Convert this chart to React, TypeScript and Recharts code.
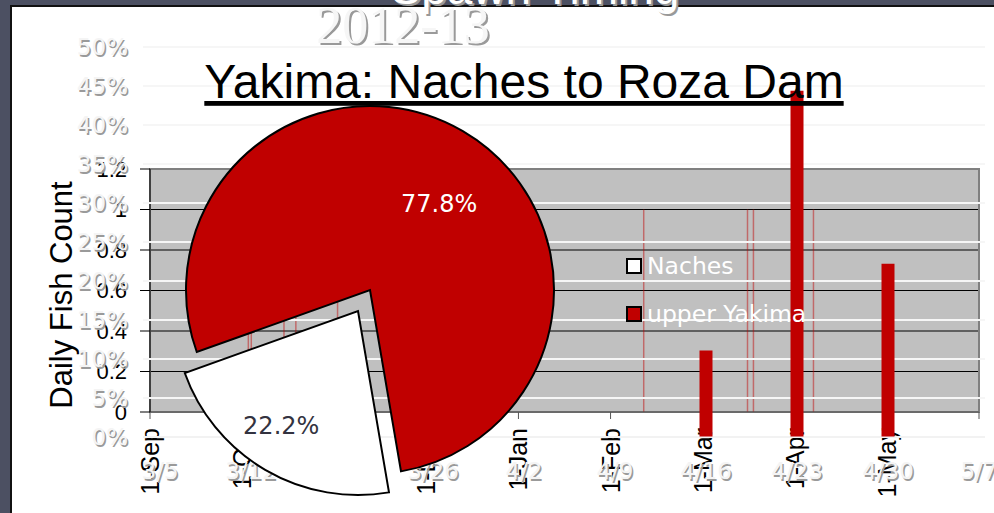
import { BarChart, Bar, XAxis, YAxis, CartesianGrid, ReferenceArea, PieChart, Pie, Cell, Legend } from "recharts";

// daily fish count chart (Sep 2012 - May 2013)
const monthLabels = ["1-Sep", "1-Oct", "1-Nov", "1-Dec", "1-Jan", "1-Feb", "1-Mar", "1-Apr", "1-May", ""];
const countDates = ["2012-10-03", "2012-10-04", "2012-10-15", "2012-10-19", "2012-11-02", "2013-02-11", "2013-03-16", "2013-03-18", "2013-04-07"];
const dailyCounts = [1, 1, 1, 1, 1, 1, 1, 1, 1];
const countTicks = [0, 0.2, 0.4, 0.6, 0.8, 1, 1.2];

// weekly spawn timing (% of redds)
const weekLabels = ["3/5", "3/12", "3/19", "3/26", "4/2", "4/9", "4/16", "4/23", "4/30", "5/7"];
const weeklyPct = [0, 0, 0, 0, 0, 0, 11.1, 44.4, 22.2, 0];
const pctTicks = [0, 5, 10, 15, 20, 25, 30, 35, 40, 45, 50];

// share by reach
const pieNames = ["Naches", "upper Yakima"];
const pieCounts = [2, 7];
const pieColors = ["#ffffff", "#c00000"];

const W = 994;
const H = 513;
const RAD = Math.PI / 180;

// month index from Sep 2012, fractional by day
const toMonthPos = (d: string) => {
    const [y, m, day] = d.split("-").map(Number);
    const idx = (y - 2012) * 12 + m - 9;
    const dim = new Date(y, m, 0).getDate();
    return idx + (day - 1) / dim;
};

const dailyData = countDates.map((d, i) => ({ pos: toMonthPos(d), count: dailyCounts[i] }));
const weeklyData = weekLabels.map((w, i) => ({ pos: i, week: w, pct: weeklyPct[i] }));
const pieData = pieNames.map((n, i) => ({ name: n, value: pieCounts[i], color: pieColors[i] }));

const ARIAL = "'Liberation Sans', Arial, sans-serif";
const TAHOMA = "'DejaVu Sans', Verdana, sans-serif";

const MonthTick = (p: any) => (
    <text x={p.x} y={p.y} transform={`rotate(-90 ${p.x} ${p.y})`} textAnchor="end" dominantBaseline="central"
        fontSize={25} fontFamily={ARIAL} fill="#000">
        {monthLabels[p.payload.value] ?? ""}
    </text>
);

const ShadowText = ({ x, y, anchor, dy, size, children }: any) => (
    <g>
        <text x={x + 1.5} y={y + 1.5} dy={dy} textAnchor={anchor} fontSize={size} fontFamily={TAHOMA} fill="#9a9a9a">{children}</text>
        <text x={x} y={y} dy={dy} textAnchor={anchor} fontSize={size} fontFamily={TAHOMA} fill="#f4f4f4">{children}</text>
    </g>
);

const PctTick = (p: any) => (
    <ShadowText x={p.x} y={p.y} anchor="end" dy="0.36em" size={23}>{p.payload.value}%</ShadowText>
);

const WeekTick = (p: any) => (
    <ShadowText x={p.x} y={p.y} anchor="middle" dy="0.71em" size={23}>{weekLabels[p.payload.value] ?? ""}</ShadowText>
);

// label placed inside slice, rf = fraction of radius, shift = degrees off mid angle
const sliceLabel = (which: number, rf: number, shift: number, color: string) => (p: any) => {
    if (p.index !== which) return null;
    const r = p.outerRadius * rf;
    const a = (p.midAngle + shift) * RAD;
    const x = p.cx + r * Math.cos(-a);
    const y = p.cy + r * Math.sin(-a);
    return (
        <text x={x} y={y} fill={color} textAnchor="middle" dominantBaseline="central" fontSize={24} fontFamily={TAHOMA}>
            {(p.percent * 100).toFixed(1)}%
        </text>
    );
};

const PieLegend = () => (
    <div style={{ display: "flex", flexDirection: "column", gap: 22 }}>
        {pieData.map((d) => (
            <div key={d.name} style={{ display: "flex", alignItems: "center", height: 26 }}>
                <span style={{ width: 12, height: 12, border: "2px solid #000", background: d.color, marginRight: 5 }} />
                <span style={{ color: "#fff", fontFamily: TAHOMA, fontSize: 23.5, whiteSpace: "nowrap" }}>{d.name}</span>
            </div>
        ))}
    </div>
);

function DailyChart() {
    return (
        <BarChart width={W} height={H} data={dailyData} margin={{ top: 169, right: 15, bottom: 41, left: 0 }}>
            <CartesianGrid vertical={false} stroke="#000" fill="#c0c0c0" fillOpacity={1} />
            <ReferenceArea x1={0} x2={9} y1={0} y2={1.2} fill="none" stroke="#808080" strokeWidth={2} />
            <XAxis dataKey="pos" type="number" domain={[0, 9]} ticks={[0, 1, 2, 3, 4, 5, 6, 7, 8, 9]}
                height={60} tickSize={7} tickMargin={9} stroke="#555" tick={<MonthTick />} />
            <YAxis domain={[0, 1.2]} ticks={countTicks} width={150} tickSize={10} tickMargin={13} stroke="#000"
                tickFormatter={(v: number) => String(Math.round(v * 10) / 10)}
                tick={{ fill: "#000", fontSize: 22, fontFamily: ARIAL }} />
            <Bar dataKey="count" fill="#c00000" fillOpacity={0.45} barSize={1.5} isAnimationActive={false} />
        </BarChart>
    );
}

function SpawnChart() {
    return (
        <BarChart width={W} height={H} data={weeklyData} margin={{ top: 47, right: 9, bottom: 26, left: 0 }}>
            <CartesianGrid vertical={false} stroke="#f6f6f6" strokeWidth={2} />
            <XAxis dataKey="pos" type="number" domain={[-0.187, 9.066]} ticks={weekLabels.map((_, i) => i)}
                height={50} tickLine={false} tickSize={0} tickMargin={26} stroke="#eeeeee" tick={<WeekTick />} />
            <YAxis domain={[0, 50]} ticks={pctTicks} width={143} tickLine={false} axisLine={false}
                tickSize={0} tickMargin={15} tick={<PctTick />} />
            <Bar dataKey="pct" fill="#c00000" barSize={13} isAnimationActive={false} />
        </BarChart>
    );
}

function ReachPie() {
    return (
        <PieChart width={W} height={H} margin={{ top: 0, right: 0, bottom: 0, left: 0 }}>
            <Pie data={pieData} dataKey="value" nameKey="name" cx={370} cy={290} outerRadius={184}
                startAngle={199.7} endAngle={559.7} labelLine={false} label={sliceLabel(1, 0.6, -8.5, "#fff")}
                isAnimationActive={false}>
                {pieData.map((d, i) => (
                    <Cell key={d.name} fill={i === 1 ? d.color : "transparent"} stroke={i === 1 ? "#000" : "none"} strokeWidth={2} />
                ))}
            </Pie>
            <Pie data={pieData} dataKey="value" nameKey="name" cx={358} cy={311} outerRadius={184}
                startAngle={199.7} endAngle={559.7} labelLine={false} label={sliceLabel(0, 0.75, -3.5, "#333340")}
                isAnimationActive={false}>
                {pieData.map((d, i) => (
                    <Cell key={d.name} fill={i === 0 ? d.color : "transparent"} stroke={i === 0 ? "#000" : "none"} strokeWidth={2} />
                ))}
            </Pie>
            <Legend layout="vertical" content={<PieLegend />} wrapperStyle={{ left: 626, top: 253, width: 220 }} />
        </PieChart>
    );
}

const layer: React.CSSProperties = { position: "absolute", left: 0, top: 0 };

export default function App() {
    return (
        <div style={{ position: "fixed", left: 0, top: 0, width: W, height: H, overflow: "hidden", background: "#4c5062" }}>
            <div style={{ position: "absolute", left: 10, top: 5, width: W - 10, height: H - 5, background: "#fff", borderLeft: "2px solid #111", borderTop: "2px solid #111", boxSizing: "border-box" }} />
            <div style={layer}><DailyChart /></div>
            <svg width={W} height={H} style={layer}>
                <text x={72} y={295} transform="rotate(-90 72 295)" textAnchor="middle" fontSize={31} fontFamily={ARIAL} fill="#000">Daily Fish Count</text>
            </svg>
            <div style={layer}><SpawnChart /></div>
            <svg width={W} height={H} style={layer}>
                <text x={524} y={98} textAnchor="middle" fontSize={48} fontFamily={ARIAL} fill="#000" textDecoration="underline">Yakima: Naches to Roza Dam</text>
            </svg>
            <div style={layer}><ReachPie /></div>
            <svg width={W} height={H} style={layer}>
                <text x={537} y={6} textAnchor="middle" fontSize={46} fontFamily={ARIAL} fill="#999">Spawn Timing</text>
                <text x={535} y={4} textAnchor="middle" fontSize={46} fontFamily={ARIAL} fill="#fff">Spawn Timing</text>
                <text x={405} y={45} textAnchor="middle" fontSize={52} fontFamily="'Liberation Serif', serif" fill="#9a9a9a">2012-13</text>
                <text x={403} y={43} textAnchor="middle" fontSize={52} fontFamily="'Liberation Serif', serif" fill="#f6f6f6">2012-13</text>
            </svg>
        </div>
    );
}
